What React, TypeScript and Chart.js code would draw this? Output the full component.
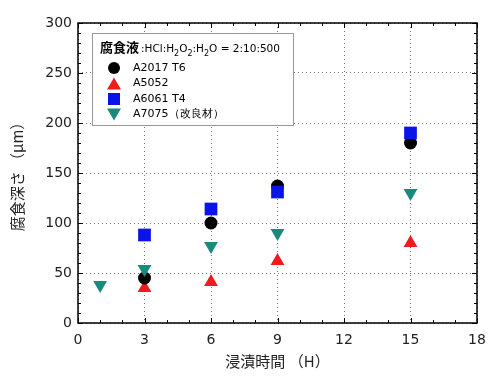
import React, { useEffect, useRef } from "react";
import { Chart, registerables } from "chart.js";

Chart.register(...registerables);

const a2017X = [3, 6, 9, 15];
const a2017Y = [45, 100, 137, 180];
const a5052X = [3, 6, 9, 15];
const a5052Y = [35, 41, 62, 80];
const a6061X = [3, 6, 9, 15];
const a6061Y = [88, 114, 131, 190];
const a7075X = [1, 3, 6, 9, 15];
const a7075Y = [38, 54, 77, 90, 130];

const seriesNames = ["A2017 T6", "A5052", "A6061 T4", "A7075（改良材）"];
const xTicks = [0, 3, 6, 9, 12, 15, 18];
const yTicks = [0, 50, 100, 150, 200, 250, 300];
const xTitle = "浸漬時間 （H）";
const yTitle = "腐食深さ （μm）";

const pts = (xs: number[], ys: number[]) => xs.map((x, i) => ({ x, y: ys[i] }));

const TEAL = "#1b8a7e";
const RED = "#ee1c1c";
const BLUE = "#0a14e6";
const FONT = "'DejaVu Sans', sans-serif";
const JFONT = "'Noto Sans CJK JP', sans-serif";

const framePlugin = {
  id: "frame",
  afterDatasetsDraw(chart: any) {
    const { ctx, chartArea: a, scales } = chart;
    const xs = scales.x;
    const ys = scales.y;
    ctx.save();
    ctx.strokeStyle = "#000";
    ctx.lineWidth = 1;
    const tick = (x1: number, y1: number, x2: number, y2: number) => {
      ctx.beginPath();
      ctx.moveTo(x1, y1);
      ctx.lineTo(x2, y2);
      ctx.stroke();
    };
    for (let v = 0; v <= 18; v += 1) {
      const px = Math.round(xs.getPixelForValue(v)) + 0.5;
      const len = v % 3 === 0 ? 5 : 3;
      tick(px, a.bottom, px, a.bottom - len);
      tick(px, a.top, px, a.top + len);
    }
    for (let v = 0; v <= 300; v += 10) {
      const py = Math.round(ys.getPixelForValue(v)) + 0.5;
      const len = v % 50 === 0 ? 5 : 3;
      tick(a.left, py, a.left + len, py);
      tick(a.right, py, a.right - len, py);
    }
    ctx.lineWidth = 1.5;
    ctx.strokeRect(a.left, a.top, a.right - a.left, a.bottom - a.top);

    // legend
    const lx = xs.getPixelForValue(0) + 14;
    const ly = ys.getPixelForValue(300) + 10;
    const lw = 201;
    const lh = 92;
    ctx.fillStyle = "#fff";
    ctx.fillRect(lx, ly, lw, lh);
    ctx.strokeStyle = "#999";
    ctx.lineWidth = 1;
    ctx.strokeRect(lx + 0.5, ly + 0.5, lw, lh);

    ctx.fillStyle = "#000";
    ctx.textBaseline = "alphabetic";
    ctx.textAlign = "left";
    let tx = lx + 8;
    const ty = ly + 19;
    ctx.font = `bold 13px ${JFONT}`;
    ctx.fillText("腐食液", tx, ty);
    tx += ctx.measureText("腐食液").width + 2;
    const parts: [string, boolean][] = [
      [":HCl:H", false],
      ["2", true],
      ["O", false],
      ["2", true],
      [":H", false],
      ["2", true],
      ["O = 2:10:500", false],
    ];
    for (const [s, sub] of parts) {
      ctx.font = sub ? `8px ${FONT}` : `10.5px ${FONT}`;
      ctx.fillText(s, tx, sub ? ty + 4 : ty);
      tx += ctx.measureText(s).width;
    }
    const styles = [
      { c: "#000", s: "circle" },
      { c: RED, s: "triangle" },
      { c: BLUE, s: "rect" },
      { c: TEAL, s: "down" },
    ];
    styles.forEach((st, i) => {
      const cy = ly + 35 + i * 15.5;
      const cx = lx + 22;
      ctx.fillStyle = st.c;
      ctx.beginPath();
      if (st.s === "circle") {
        ctx.arc(cx, cy, 6, 0, Math.PI * 2);
      } else if (st.s === "triangle") {
        ctx.moveTo(cx, cy - 6);
        ctx.lineTo(cx + 7, cy + 6);
        ctx.lineTo(cx - 7, cy + 6);
        ctx.closePath();
      } else if (st.s === "rect") {
        ctx.rect(cx - 6, cy - 6, 12, 12);
      } else {
        ctx.moveTo(cx - 7, cy - 6);
        ctx.lineTo(cx + 7, cy - 6);
        ctx.lineTo(cx, cy + 6);
        ctx.closePath();
      }
      ctx.fill();
      ctx.fillStyle = "#000";
      ctx.font = `11px ${FONT}`;
      ctx.textBaseline = "middle";
      ctx.fillText(seriesNames[i], lx + 41, cy);
      ctx.textBaseline = "alphabetic";
    });
    ctx.restore();
  },
};

export default function App() {
  const ref = useRef<HTMLCanvasElement>(null);
  useEffect(() => {
    document.body.style.margin = "0";
    const chart = new Chart(ref.current!, {
      type: "scatter",
      data: {
        datasets: [
          {
            label: seriesNames[3],
            data: pts(a7075X, a7075Y),
            pointStyle: "triangle",
            rotation: 180,
            pointRadius: 8,
            backgroundColor: TEAL,
            borderColor: TEAL,
            borderWidth: 0,
          },
          {
            label: seriesNames[2],
            data: pts(a6061X, a6061Y),
            pointStyle: "rect",
            pointRadius: 9,
            backgroundColor: BLUE,
            borderColor: BLUE,
            borderWidth: 0,
          },
          {
            label: seriesNames[0],
            data: pts(a2017X, a2017Y),
            pointStyle: "circle",
            pointRadius: 6.5,
            backgroundColor: "#000",
            borderColor: "#000",
            borderWidth: 0,
          },
          {
            label: seriesNames[1],
            data: pts(a5052X, a5052Y),
            pointStyle: "triangle",
            pointRadius: 8,
            backgroundColor: RED,
            borderColor: RED,
            borderWidth: 0,
          },
        ],
      },
      options: {
        responsive: false,
        animation: false,
        layout: { padding: { left: 0, right: 11, top: 23, bottom: 0 } },
        plugins: { legend: { display: false }, tooltip: { enabled: false } },
        scales: {
          x: {
            type: "linear",
            min: 0,
            max: 18,
            afterBuildTicks: (s: any) => {
              s.ticks = xTicks.map((v) => ({ value: v }));
            },
            afterFit: (s: any) => {
              s.height = 53;
              s.paddingLeft = 0;
              s.paddingRight = 0;
            },
            ticks: {
              color: "#222",
              font: { family: FONT, size: 14 },
              padding: 9,
            },
            grid: {
              color: "#777",
              drawTicks: false,
            },
            border: { display: false, dash: [1, 3] },
            title: {
              display: true,
              text: xTitle,
              color: "#222",
              font: { family: JFONT, size: 15 },
              padding: { top: 0, bottom: 6 },
            },
          },
          y: {
            type: "linear",
            min: 0,
            max: 300,
            afterBuildTicks: (s: any) => {
              s.ticks = yTicks.map((v) => ({ value: v }));
            },
            afterFit: (s: any) => {
              s.width = 78;
              s.paddingTop = 0;
              s.paddingBottom = 0;
            },
            ticks: {
              color: "#222",
              font: { family: FONT, size: 14 },
              padding: 6,
            },
            grid: {
              color: "#777",
              drawTicks: false,
            },
            border: { display: false, dash: [1, 3] },
            title: {
              display: true,
              text: yTitle,
              color: "#222",
              font: { family: JFONT, size: 15 },
              padding: { top: 8, bottom: 0 },
            },
          },
        },
      },
      plugins: [framePlugin],
    } as any);
    return () => chart.destroy();
  }, []);
  return <canvas ref={ref} width={488} height={376} style={{ display: "block" }} />;
}
